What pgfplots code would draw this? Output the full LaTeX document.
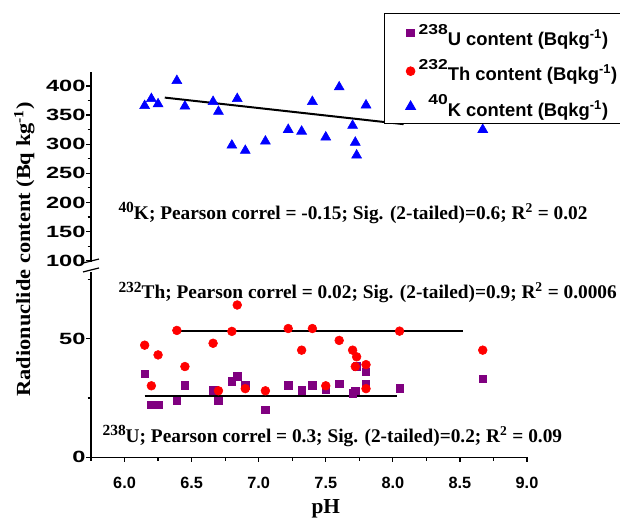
\documentclass[border=0pt]{standalone}
\usepackage{fontspec}
\setmainfont{Liberation Serif}
\setsansfont{Liberation Sans}
\newfontfamily\yticksfont{Liberation Sans}[FakeStretch=1.45]
\newfontfamily\ylabfont{Liberation Serif}[FakeStretch=1.12]
\usepackage{pgfplots}
\pgfplotsset{compat=1.18}
\definecolor{upurple}{HTML}{800080}
\definecolor{thred}{HTML}{FF0000}
\definecolor{kblue}{HTML}{0000FF}

% raised isotope numbers
\newcommand\iso[1]{\raisebox{0.32em}{\scalebox{0.8}{#1}}}
\newcommand\legiso[1]{\raisebox{0.62em}{\makebox[1.55em][r]{\scalebox{0.95}[0.78]{#1}}}}

\pgfplotstableread{
ph u
6.15 35.1
6.20 22.1
6.25 22.1
6.39 23.8
6.45 30.3
6.66 28.2
6.70 23.8
6.80 32.1
6.84 34.1
6.90 30.3
7.05 20.0
7.22 30.3
7.32 28.2
7.40 30.3
7.50 28.7
7.60 31.0
7.70 27.0
7.72 28.0
7.73 38.3
7.80 35.9
7.80 31.0
8.05 29.0
8.67 33.0
}\udata

\pgfplotstableread{
ph th
6.15 47.2
6.20 30.1
6.25 43.1
6.39 53.4
6.45 38.2
6.66 48.0
6.70 28.0
6.80 53.0
6.84 64.1
6.90 28.9
7.05 28.0
7.22 54.2
7.32 45.1
7.40 54.2
7.50 30.1
7.60 49.2
7.70 45.1
7.72 38.2
7.73 42.3
7.80 39.0
7.80 28.9
8.05 53.1
8.67 45.1
}\thdata

\pgfplotstableread{
ph k
6.15 366
6.20 378
6.25 369
6.39 409
6.45 365
6.66 373
6.70 356
6.80 298
6.84 378
6.90 289
7.05 305
7.22 325
7.32 322
7.40 373
7.50 312
7.60 398
7.70 332
7.72 303
7.73 281
7.80 367
8.67 325
}\kdata

\pgfplotsset{
  brk/.style={
    scale only axis, width=327pt,
    xmin=5.75, xmax=9.0, clip=false,
    axis line style={-, line width=0.9pt},
    tick style={line width=0.9pt, black},
    tick align=outside,
    major tick length=3.5pt, minor tick length=2.5pt,
    xticklabel style={font=\fontsize{12.2}{14}\selectfont\sffamily\bfseries, yshift=-8pt},
    yticklabel style={font=\fontsize{12.2}{14}\selectfont\yticksfont\bfseries, inner xsep=0.5pt},
    /pgf/number format/assume math mode=true,
  },
  fitline/.style={black, line width=1.5pt, no marks, forget plot},
}
\tikzset{note/.style={anchor=west, inner sep=0pt, font=\fontsize{14.5}{16}\selectfont\bfseries}}

\begin{document}
\begin{tikzpicture}
\path[use as bounding box] (-68.25pt,-44.78pt) rectangle (396.75pt,342.98pt);

% lower part: U and Th
\begin{axis}[brk, at={(0,0)}, anchor=south west,
  height=139pt, ymin=0, ymax=78,
  axis x line*=bottom, axis y line*=left,
  xtick={6,6.5,...,9}, minor xtick={5.75,6.25,...,8.75},
  ytick={0,50}, minor ytick={25,75},
  xticklabel style={/pgf/number format/.cd, fixed, fixed zerofill, precision=1},
]
\addplot[only marks, mark=square*, mark size=2.8pt, color=upurple] table[x=ph, y=u] {\udata};
\addplot[only marks, mark=*, mark size=3.3pt, color=thred] table[x=ph, y=th] {\thdata};
\addplot[fitline] coordinates {(6.39,53.1) (8.52,53.1)};
\addplot[fitline] coordinates {(6.15,25.6) (8.03,25.6)};
\node[note] at (axis cs:5.953,69.4)
  {\iso{232}Th; Pearson correl = 0.02; Sig. (2-tailed)=0.9; R\textsuperscript{2} = 0.0006};
\node[note] at (axis cs:5.834,9.0)
  {\iso{238}U; Pearson correl = 0.3; Sig. (2-tailed)=0.2; R\textsuperscript{2} = 0.09};
\node[font=\fontsize{16}{18}\selectfont\bfseries] at (axis cs:7.5,-21.5) {pH};
\end{axis}

% upper part: K
\begin{axis}[brk, at={(0,146.5pt)}, anchor=south west,
  height=142.5pt, ymin=97.8, ymax=424,
  axis y line*=left, axis x line=none,
  ytick={100,150,...,400}, minor ytick={125,175,...,425},
  legend style={at={(0.672,1.31)}, anchor=north west, draw=black, line width=0.6pt,
    font=\fontsize{13.8}{15}\selectfont\sffamily\bfseries,
    inner xsep=4pt, inner ysep=2pt, row sep=5pt, cells={anchor=west}},
  legend image code/.code={
    \path[draw=none, fill=none] (-0.55cm,0cm) rectangle (0.16cm,0.01cm);
    \draw[only marks] plot coordinates {(0cm,0cm)};
  },
]
\addlegendimage{only marks, mark=square*, mark size=2.8pt, color=upurple}
\addlegendentry{\rule{0pt}{20pt}\legiso{238}U content (Bqkg\textsuperscript{-1})}
\addlegendimage{only marks, mark=*, mark size=3.3pt, color=thred}
\addlegendentry{\legiso{232}Th content (Bqkg\textsuperscript{-1})}
\addplot[only marks, mark=triangle*, mark size=4.3pt, color=kblue] table[x=ph, y=k] {\kdata};
\addlegendentry{\legiso{40}K content (Bqkg\textsuperscript{-1})}
\addplot[fitline] coordinates {(6.30,380) (8.08,334.4)};
\node[note] at (axis cs:5.953,182)
  {\iso{40}K; Pearson correl = -0.15; Sig. (2-tailed)=0.6; R\textsuperscript{2} = 0.02};
\end{axis}

% axis break marks
\draw[line width=0.9pt] (-6pt,145.7pt) -- (6pt,148.7pt);
\draw[line width=0.9pt] (-6pt,139.0pt) -- (6pt,142.0pt);

\node[rotate=90, font=\fontsize{15}{17}\selectfont\ylabfont\bfseries] at (-50pt,156pt)
  {Radionuclide content (Bq kg\textsuperscript{-1})};
\end{tikzpicture}
\end{document}
